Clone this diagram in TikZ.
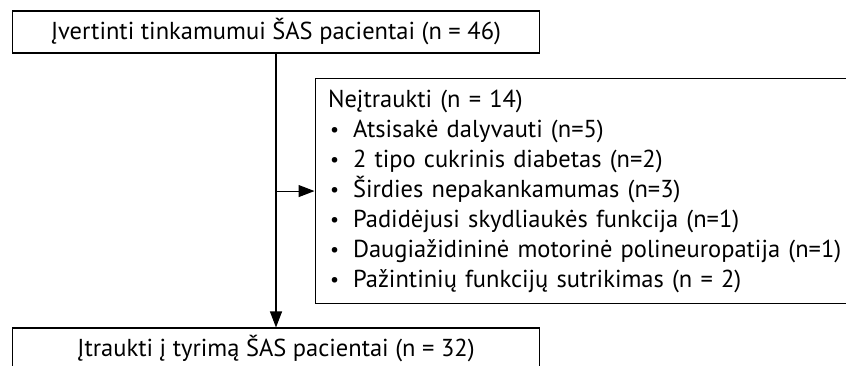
\documentclass[tikz,border=0pt]{standalone}
\usepackage{fontspec}
\setmainfont{PT Sans}
\usepackage{tikz}
\usetikzlibrary{positioning}
\usetikzlibrary{arrows.meta}

\tikzset{
	flowbox/.style={draw, line width=1.1pt, inner sep=0pt, font=\fontsize{24.5}{30}\selectfont},
	flowarrow/.style={line width=1.1pt, -{Triangle[length=16pt,width=12pt]}}
}
\newcommand{\itm}{\makebox[25pt][l]{\hspace{2pt}\raisebox{1pt}{\fontsize{20}{20}\selectfont\textbullet}}}

\begin{document}
\begin{tikzpicture}[x=1pt, y=-1pt]

		% Page frame (846 x 365)
		\useasboundingbox (0,0) rectangle (846,365);
		\clip (0,0) rectangle (846,365);

		% Boxes
		\node[flowbox, minimum width=527pt, minimum height=42pt] (vert) at (276,32) {Įvertinti tinkamumui ŠAS pacientai (n = 46)};
		\node[flowbox, anchor=north west, minimum width=570pt, minimum height=225pt,
			text width=544pt, align=left, inner xsep=13pt] (nej) at (314.5,78)
			{Neįtraukti (n = 14)\\
			\itm Atsisakė dalyvauti (n=5)\\
			\itm 2 tipo cukrinis diabetas (n=2)\\
			\itm Širdies nepakankamumas (n=3)\\
			\itm Padidėjusi skydliaukės funkcija (n=1)\\
			\itm Daugiažidininė motorinė polineuropatija (n=1)\\
			\itm Pažintinių funkcijų sutrikimas (n = 2)};
		\node[flowbox, minimum width=527pt, minimum height=42pt] (itr) at (276,349) {Įtraukti į tyrimą ŠAS pacientai (n = 32)};

		% Arrows
		\draw[flowarrow] (vert.south) -- (itr.north);
		\draw[flowarrow] (vert.south |- nej.west) -- (nej.west);

	\end{tikzpicture}
\end{document}
